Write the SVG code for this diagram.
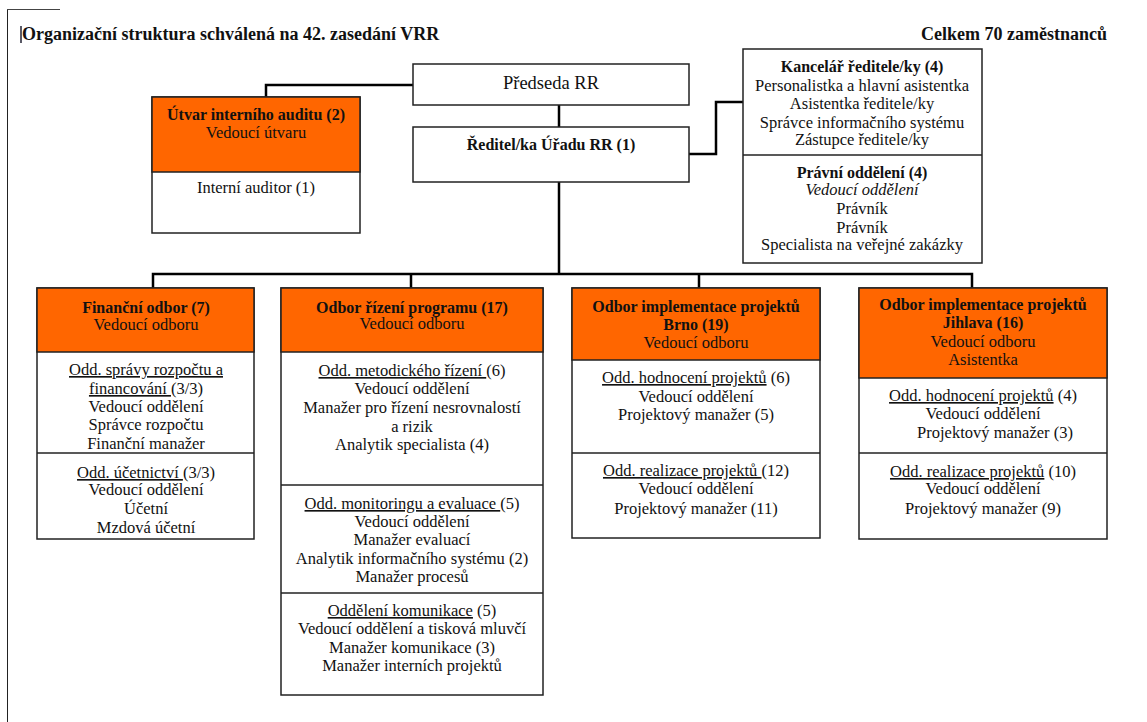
<svg xmlns="http://www.w3.org/2000/svg" width="1147" height="722" viewBox="0 0 1147 722" font-family="'Liberation Serif', 'Times New Roman', serif">
<style>
text{font-family:"Liberation Serif","Times New Roman",serif;font-size:16.5px;fill:#111;text-anchor:middle}
.b{font-weight:bold;font-size:16px}
.i{font-style:italic}
.u{text-decoration:underline}
.hdr{fill:#FF6600;stroke:#222;stroke-width:1.5}
.box{fill:#fff;stroke:#222;stroke-width:1.5}
.div{stroke:#222;stroke-width:1.5;fill:none}
.con{stroke:#000;stroke-width:2.5;fill:none}
</style>
<rect width="1147" height="722" fill="#fff"/>
<g id="page">
<line x1="7.5" y1="9" x2="7.5" y2="722" stroke="#222" stroke-width="1"/>
<line x1="7" y1="9.5" x2="60" y2="9.5" stroke="#444" stroke-width="1"/>
<line x1="21" y1="26" x2="21" y2="43" stroke="#223" stroke-width="1.5"/>
<text x="22" y="40" class="b" style="text-anchor:start;font-size:18px">Organizační struktura schválená na 42. zasedání VRR</text>
<text x="1107" y="40" class="b" style="text-anchor:end;font-size:18px">Celkem 70 zaměstnanců</text>
</g>
<g id="connectors">
<path class="con" d="M559,105 V127"/>
<path class="con" d="M413,85 H266 V97"/>
<path class="con" d="M689,154 H716 V102 H743"/>
<path class="con" d="M559,182 V274"/>
<path class="con" d="M153,288 V274 H972 V288"/>
<path class="con" d="M411,274 V288"/>
<path class="con" d="M699,274 V288"/>
</g>
<g id="predseda">
<rect class="box" x="413" y="64" width="276" height="41"/>
<text x="551" y="89" style="font-size:18.5px">Předseda RR</text>
</g>
<g id="reditel">
<rect class="box" x="413" y="127" width="276" height="55"/>
<text x="551" y="150" class="b">Ředitel/ka Úřadu RR (1)</text>
</g>
<g id="audit">
<rect class="box" x="152" y="97" width="208" height="136"/>
<rect class="hdr" x="152" y="97" width="208" height="75"/>
<text x="256" y="120" class="b">Útvar interního auditu (2)</text>
<text x="256" y="138">Vedoucí útvaru</text>
<text x="256" y="193">Interní auditor (1)</text>
</g>
<g id="kancelar">
<rect class="box" x="743" y="49" width="239" height="214"/>
<line class="div" x1="743" y1="155" x2="982" y2="155"/>
<text x="862" y="72" class="b">Kancelář ředitele/ky (4)</text>
<text x="862" y="91">Personalistka a hlavní asistentka</text>
<text x="862" y="109">Asistentka ředitele/ky</text>
<text x="862" y="128">Správce informačního systému</text>
<text x="862" y="145">Zástupce ředitele/ky</text>
<text x="862" y="178" class="b">Právní oddělení (4)</text>
<text x="862" y="195" class="i">Vedoucí oddělení</text>
<text x="862" y="214">Právník</text>
<text x="862" y="233">Právník</text>
<text x="862" y="250">Specialista na veřejné zakázky</text>
</g>
<g id="financni">
<rect class="box" x="37" y="288" width="217" height="251"/>
<rect class="hdr" x="37" y="288" width="217" height="64"/>
<line class="div" x1="37" y1="453" x2="254" y2="453"/>
<text x="146" y="313" class="b">Finanční odbor (7)</text>
<text x="146" y="330">Vedoucí odboru</text>
<text x="146" y="375"><tspan class="u">Odd. správy rozpočtu a</tspan></text>
<text x="146" y="394"><tspan class="u">financování </tspan>(3/3)</text>
<text x="146" y="412">Vedoucí oddělení</text>
<text x="146" y="430">Správce rozpočtu</text>
<text x="146" y="449">Finanční manažer</text>
<text x="146" y="478"><tspan class="u">Odd. účetnictví </tspan> (3/3)</text>
<text x="146" y="495">Vedoucí oddělení</text>
<text x="146" y="514">Účetní</text>
<text x="146" y="533">Mzdová účetní</text>
</g>
<g id="rizeni">
<rect class="box" x="281" y="288" width="262" height="407"/>
<rect class="hdr" x="281" y="288" width="262" height="64"/>
<line class="div" x1="281" y1="485" x2="543" y2="485"/>
<line class="div" x1="281" y1="593" x2="543" y2="593"/>
<text x="412" y="313" class="b">Odbor řízení programu (17)</text>
<text x="412" y="329">Vedoucí odboru</text>
<text x="412" y="376"><tspan class="u">Odd. metodického řízení </tspan>(6)</text>
<text x="412" y="394">Vedoucí oddělení</text>
<text x="412" y="413">Manažer pro řízení nesrovnalostí</text>
<text x="412" y="432">a rizik</text>
<text x="412" y="450">Analytik specialista (4)</text>
<text x="412" y="509"><tspan class="u">Odd. monitoringu a evaluace </tspan>(5)</text>
<text x="412" y="527">Vedoucí oddělení</text>
<text x="412" y="545">Manažer evaluací</text>
<text x="412" y="564">Analytik informačního systému (2)</text>
<text x="412" y="582">Manažer procesů</text>
<text x="412" y="616"><tspan class="u">Oddělení komunikace</tspan> (5)</text>
<text x="412" y="634">Vedoucí oddělení a tisková mluvčí</text>
<text x="412" y="653">Manažer komunikace (3)</text>
<text x="412" y="671">Manažer interních projektů</text>
</g>
<g id="brno">
<rect class="box" x="572" y="288" width="248" height="250"/>
<rect class="hdr" x="572" y="288" width="248" height="72"/>
<line class="div" x1="572" y1="453" x2="820" y2="453"/>
<text x="696" y="312" class="b">Odbor implementace projektů</text>
<text x="696" y="330" class="b">Brno (19)</text>
<text x="696" y="348">Vedoucí odboru</text>
<text x="696" y="383"><tspan class="u">Odd. hodnocení projektů</tspan> (6)</text>
<text x="696" y="402">Vedoucí oddělení</text>
<text x="696" y="420">Projektový manažer (5)</text>
<text x="696" y="476"><tspan class="u">Odd. realizace projektů </tspan>(12)</text>
<text x="696" y="494">Vedoucí oddělení</text>
<text x="696" y="514">Projektový manažer (11)</text>
</g>
<g id="jihlava">
<rect class="box" x="859" y="288" width="248" height="251"/>
<rect class="hdr" x="859" y="288" width="248" height="90"/>
<line class="div" x1="859" y1="453" x2="1107" y2="453"/>
<text x="983" y="310" class="b">Odbor implementace projektů</text>
<text x="983" y="328" class="b">Jihlava (16)</text>
<text x="983" y="347">Vedoucí odboru</text>
<text x="983" y="365">Asistentka</text>
<text x="983" y="401"><tspan class="u">Odd. hodnocení projektů</tspan> (4)</text>
<text x="983" y="419">Vedoucí oddělení</text>
<text x="995" y="438">Projektový manažer (3)</text>
<text x="983" y="477"><tspan class="u">Odd. realizace projektů</tspan> (10)</text>
<text x="983" y="494">Vedoucí oddělení</text>
<text x="983" y="514">Projektový manažer (9)</text>
</g>
</svg>
